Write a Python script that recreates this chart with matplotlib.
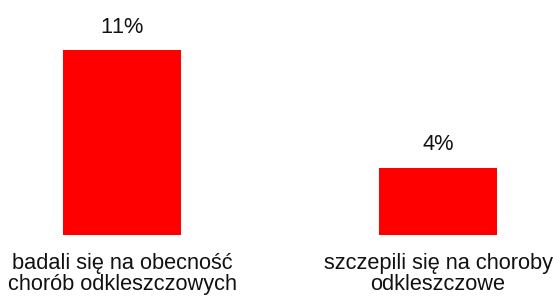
import matplotlib
matplotlib.use("Agg")
import matplotlib.pyplot as plt

categories = ["badali się na obecność\nchorób odkleszczowych",
              "szczepili się na choroby\nodkleszczowe"]
values = [11, 4]
value_labels = ["11%", "4%"]

plt.rcParams['font.family'] = ['Liberation Sans', 'DejaVu Sans']
plt.rcParams['text.kerning_factor'] = 6

fig = plt.figure(figsize=(5.53, 2.96), dpi=100)
ax = fig.add_axes([0, 1 - 235 / 296, 1, 235 / 296])

pos = list(range(len(values)))
ax.bar(pos, values, width=0.373, color="#ff0000")

ax.set_xlim(-122 / 316, 431 / 316)
ax.set_ylim(0, 235 / (185 / 11))
ax.axis("off")

for x, v, lab in zip(pos, values, value_labels):
    ax.annotate(lab, (x, v), xytext=(0, 16.5), textcoords="offset points",
                ha="center", va="center", fontsize=15.7, color="#111111")

for x, cat in zip(pos, categories):
    ax.annotate(cat, (x, 0), xycoords=("data", "axes fraction"),
                xytext=(0, -28), textcoords="offset points",
                ha="center", va="center", multialignment="center",
                fontsize=15.7, linespacing=0.98, color="#111111",
                annotation_clip=False)

fig.savefig("out.png", dpi=100)
